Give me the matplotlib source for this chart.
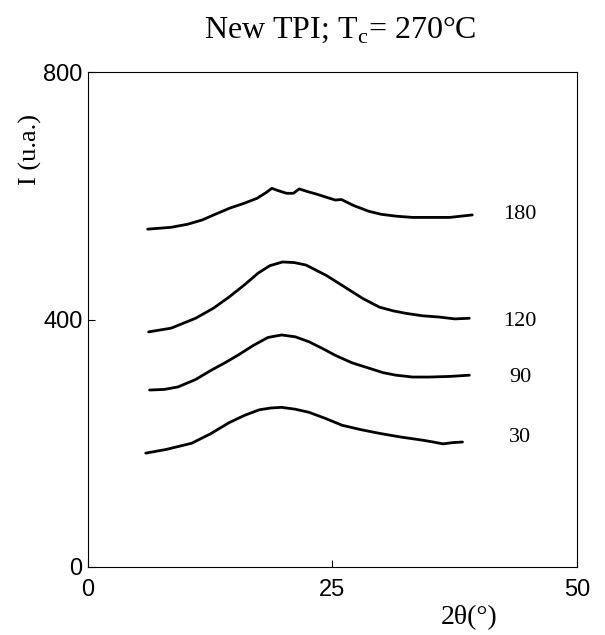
import matplotlib.pyplot as plt

# values (2theta in degrees, intensity in a.u.)
x_30 = [5.9, 8.0, 10.6, 12.5, 14.4, 16.0, 17.5, 18.7, 19.8, 21.2, 22.6, 24.3, 26.0, 27.9, 29.8, 32.0, 34.2, 35.3, 36.3, 37.3, 38.3]
y_30 = [184, 190, 200, 215, 233, 245, 254, 257, 258, 255, 250, 240, 229, 222, 216, 210, 205, 202, 199, 201, 202]

x_90 = [6.3, 7.8, 9.2, 11.0, 12.6, 14.0, 15.3, 16.9, 18.4, 19.8, 21.2, 22.6, 24.0, 25.3, 27.0, 28.8, 30.2, 31.5, 33.2, 34.9, 37.0, 39.0]
y_90 = [286, 287, 291, 303, 318, 330, 342, 358, 371, 375, 372, 364, 353, 342, 330, 321, 314, 310, 307, 307, 308, 310]

x_120 = [6.2, 8.5, 11.0, 12.8, 14.4, 16.0, 17.4, 18.6, 19.9, 21.1, 22.3, 24.4, 26.4, 28.1, 29.8, 31.2, 32.5, 34.2, 35.9, 37.5, 39.0]
y_120 = [380, 386, 402, 418, 436, 456, 475, 487, 493, 492, 488, 471, 451, 434, 420, 414, 410, 406, 404, 401, 402]

x_180 = [6.1, 8.5, 10.2, 11.7, 13.0, 14.5, 16.0, 17.3, 18.2, 18.8, 19.5, 20.3, 21.0, 21.6, 22.4, 23.3, 24.3, 25.3, 25.9, 27.2, 28.7, 30.0, 31.5, 33.2, 34.9, 37.0, 39.3]
y_180 = [546, 549, 554, 561, 570, 580, 588, 596, 605, 612, 608, 604, 604, 611, 607, 603, 598, 593, 594, 584, 575, 570, 567, 565, 565, 565, 569]

curves = [(x_30, y_30), (x_90, y_90), (x_120, y_120), (x_180, y_180)]
labels = ['30', '90', '120', '180']
label_y = [210, 307, 396, 569]

fig = plt.figure(figsize=(6.05, 6.35), dpi=100)
ax = fig.add_axes([0.1455, 0.1071, 0.808, 0.7795])

for (xs, ys) in curves:
    ax.plot(xs, ys, color='black', lw=2.0, solid_capstyle='round',
            solid_joinstyle='round')

for lab, ly in zip(labels, label_y):
    ax.text(44.2, ly, lab, ha='center', va='center', fontsize=16,
            family='Liberation Serif')

ax.set_xlim(0, 50)
ax.set_ylim(0, 800)
ax.set_xticks([0, 25, 50])
ax.set_yticks([0, 400, 800])
ax.tick_params(direction='in', length=5, width=0.8, labelsize=17)
ax.tick_params(axis='x', pad=9)
ax.tick_params(axis='y', pad=4)
for lbl in ax.get_xticklabels() + ax.get_yticklabels():
    lbl.set_family('Liberation Sans')
for sp in ax.spines.values():
    sp.set_linewidth(0.8)

fig.text(0.562, 0.953, 'New TPI; T$_\\mathregular{c}$= 270°C', ha='center', va='center',
         fontsize=23, family='Liberation Serif')
fig.text(0.05, 0.765, 'I (u.a.)', rotation=90, ha='center', va='center',
         fontsize=19, family='Liberation Serif')
fig.text(0.775, 0.028, '2θ(°)', ha='center', va='center',
         fontsize=20, family='Liberation Serif')

fig.savefig('out.png', dpi=100)
